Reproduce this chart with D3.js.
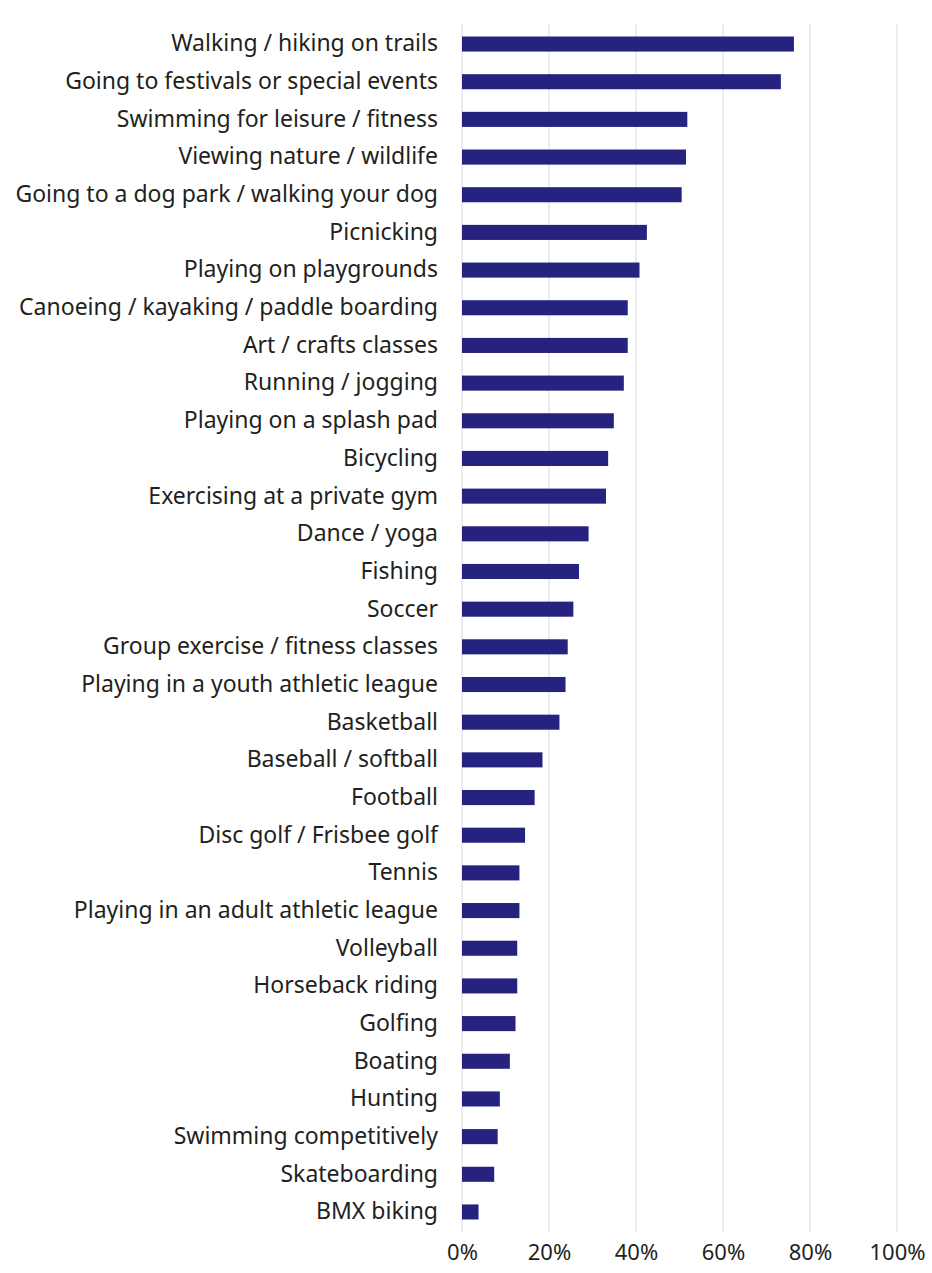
<!DOCTYPE html>
<html>
<head>
<meta charset="utf-8">
<script src="https://cdn.jsdelivr.net/npm/d3@7"></script>
<style>
  html, body { margin: 0; padding: 0; background: #ffffff; }
  svg { display: block; }
</style>
</head>
<body>
<svg id="chart" width="932" height="1273"></svg>
<script>
const categories = [
  "Walking / hiking on trails",
  "Going to festivals or special events",
  "Swimming for leisure / fitness",
  "Viewing nature / wildlife",
  "Going to a dog park / walking your dog",
  "Picnicking",
  "Playing on playgrounds",
  "Canoeing / kayaking / paddle boarding",
  "Art / crafts classes",
  "Running / jogging",
  "Playing on a splash pad",
  "Bicycling",
  "Exercising at a private gym",
  "Dance / yoga",
  "Fishing",
  "Soccer",
  "Group exercise / fitness classes",
  "Playing in a youth athletic league",
  "Basketball",
  "Baseball / softball",
  "Football",
  "Disc golf / Frisbee golf",
  "Tennis",
  "Playing in an adult athletic league",
  "Volleyball",
  "Horseback riding",
  "Golfing",
  "Boating",
  "Hunting",
  "Swimming competitively",
  "Skateboarding",
  "BMX biking"
];
const values = [
  76.3, 73.3, 51.8, 51.5, 50.5, 42.5, 40.8, 38.1, 38.1, 37.2,
  34.9, 33.6, 33.1, 29.1, 26.9, 25.6, 24.3, 23.8, 22.4, 18.5,
  16.7, 14.5, 13.2, 13.2, 12.7, 12.7, 12.3, 11.0, 8.7, 8.2,
  7.4, 3.8
];
const tickValues = [0, 20, 40, 60, 80, 100];
const tickLabels = ["0%", "20%", "40%", "60%", "80%", "100%"];

const svg = d3.select("#chart");
const fontFamily = "'Noto Sans', sans-serif";

const x = d3.scaleLinear().domain([0, 100]).range([462, 897]);
const y = d3.scaleBand().domain(categories).range([25.2, 1230.8])
  .paddingInner(0.6).paddingOuter(0.3);

// gridlines
svg.append("g").selectAll("line")
  .data(tickValues)
  .join("line")
  .attr("x1", d => x(d)).attr("x2", d => x(d))
  .attr("y1", 24).attr("y2", 1232)
  .attr("stroke", "#ececec")
  .attr("stroke-width", 2);

// bars
svg.append("g").selectAll("rect")
  .data(categories)
  .join("rect")
  .attr("x", x(0))
  .attr("y", d => y(d))
  .attr("width", (d, i) => x(values[i]) - x(0))
  .attr("height", y.bandwidth())
  .attr("fill", "#25237f");

// category labels
const yAxis = d3.axisLeft(y).tickSize(0).tickPadding(0);
const gy = svg.append("g").attr("transform", "translate(438,0)").call(yAxis);
gy.select(".domain").remove();
gy.selectAll("text")
  .attr("font-family", fontFamily)
  .attr("font-size", 23)
  .attr("fill", "#231f20");

// x tick labels
const xAxis = d3.axisBottom(x).tickValues(tickValues)
  .tickFormat((d, i) => tickLabels[i]).tickSize(0).tickPadding(0);
const gx = svg.append("g").attr("transform", "translate(0,1244)").call(xAxis);
gx.select(".domain").remove();
gx.selectAll("text")
  .attr("font-family", fontFamily)
  .attr("font-size", 22)
  .attr("fill", "#231f20");
</script>
</body>
</html>
